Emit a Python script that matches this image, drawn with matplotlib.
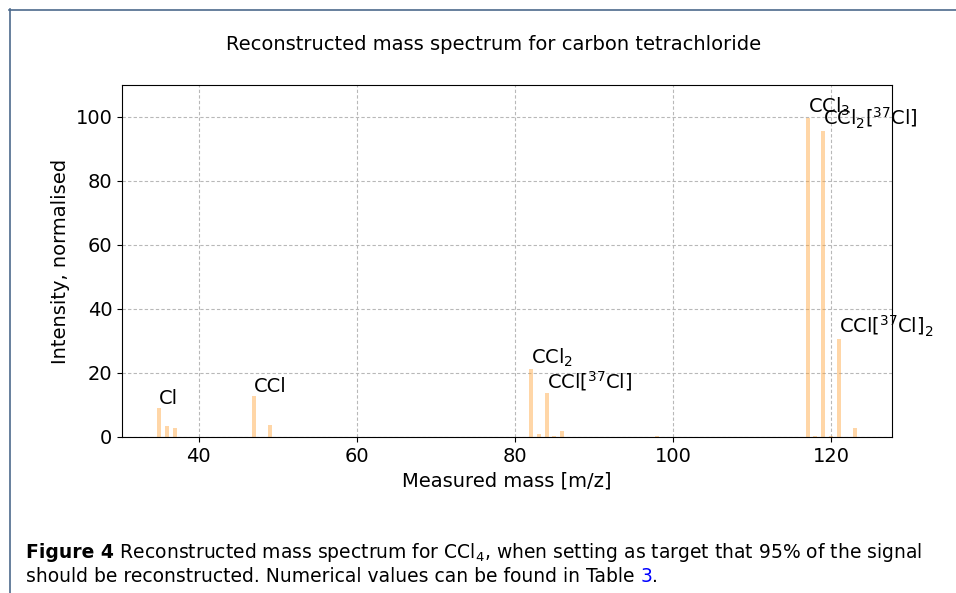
import matplotlib
matplotlib.use('Agg')
import matplotlib.pyplot as plt
from matplotlib.lines import Line2D

# m/z values and normalised intensities
mass = [35, 36, 37, 47, 49, 82, 83, 84, 85, 86, 98, 117, 118, 119, 120, 121, 123]
intensity = [9.1, 3.5, 2.9, 12.9, 3.9, 21.1, 0.8, 13.6, 0.4, 2.0, 0.3,
             99.8, 0.4, 95.7, 0.3, 30.5, 2.9]

# fragment labels
label_mass = [35, 47, 82, 84, 117, 119, 121]
label_height = [9.1, 12.9, 21.1, 13.6, 99.8, 95.7, 30.5]
label_text = ['Cl', 'CCl', r'CCl$_2$', r'CCl[$^{37}$Cl]', r'CCl$_3$',
              r'CCl$_2$[$^{37}$Cl]', r'CCl[$^{37}$Cl]$_2$']

W, H = 956, 593
fig = plt.figure(figsize=(W / 100, H / 100), dpi=100)
fig.patch.set_facecolor('white')

ax = fig.add_axes([122 / W, 1 - 437 / H, (892 - 122) / W, (437 - 85) / H])
ax.bar(mass, intensity, width=0.5, color='#ff9f2e', alpha=0.42)
for m, h, t in zip(label_mass, label_height, label_text):
    ax.text(m, h, t, fontsize=14, ha='left', va='bottom')

ax.set_ylim(0, 110)
ax.set_xticks([40, 60, 80, 100, 120])
ax.set_yticks([0, 20, 40, 60, 80, 100])
ax.grid(True, linestyle=(0, (3, 2)), color='#b8b8b8', linewidth=0.8)
ax.set_axisbelow(True)
ax.tick_params(labelsize=14)
ax.set_xlabel('Measured mass [m/z]', fontsize=14)
ax.set_ylabel('Intensity, normalised', fontsize=14)

fig.text(494 / W, 1 - 45 / H, 'Reconstructed mass spectrum for carbon tetrachloride',
         fontsize=14, ha='center', va='center')

# page frame lines
fig.add_artist(Line2D([9 / W, 1], [1 - 9.5 / H, 1 - 9.5 / H], color='#4d6a8c', linewidth=1.2))
fig.add_artist(Line2D([9.5 / W, 9.5 / W], [0, 1 - 9 / H], color='#4d6a8c', linewidth=1.2))

# caption, pieced together
cap_font = dict(fontsize=13.5, family='DejaVu Sans', va='baseline')
renderer = fig.canvas.get_renderer()
x0 = 26 / W
y1 = 1 - 558 / H
y2 = 1 - 582 / H
pieces = [('Figure 4', 'bold', 'black'),
          (r' Reconstructed mass spectrum for CCl$_4$, when setting as target that 95% of the signal',
           'normal', 'black')]
x = x0
for s, w, c in pieces:
    t = fig.text(x, y1, s, fontweight=w, color=c, **cap_font)
    bb = t.get_window_extent(renderer)
    x = (bb.x1) / W
x = x0
for s, c in [('should be reconstructed. Numerical values can be found in Table ', 'black'),
             ('3', 'blue'), ('.', 'black')]:
    t = fig.text(x, y2, s, color=c, **cap_font)
    bb = t.get_window_extent(renderer)
    x = (bb.x1) / W

fig.savefig('out.png', dpi=100)
